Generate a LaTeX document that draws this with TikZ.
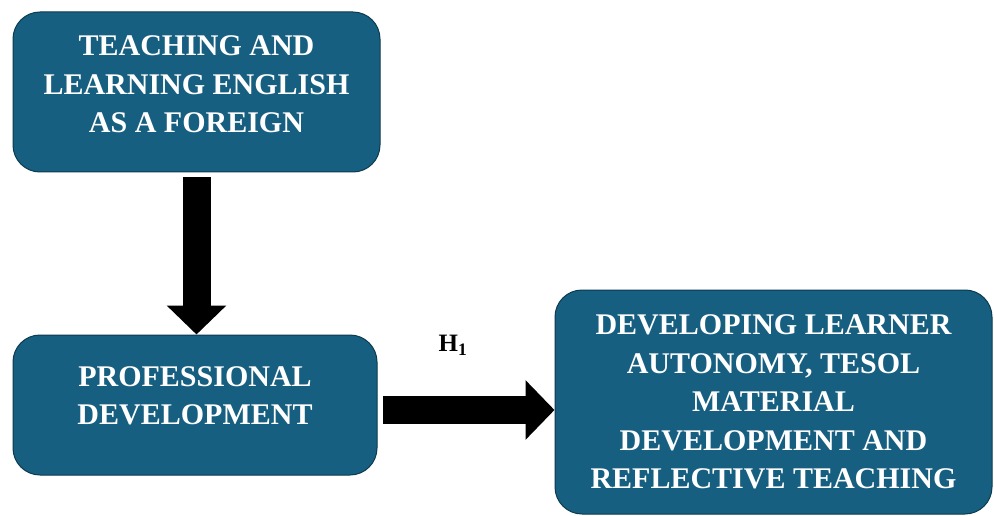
\documentclass[tikz,border=0pt]{standalone}
\usepackage{fontspec}
\setmainfont{Liberation Serif}
\usetikzlibrary{arrows.meta}
\definecolor{boxblue}{HTML}{175F80}
\definecolor{boxedge}{HTML}{0C3A4E}

\begin{document}
\begin{tikzpicture}[x=1pt,y=-1pt,
   box/.style={draw=boxedge,line width=1pt,fill=boxblue,rounded corners=27pt,inner sep=0pt},
   boxtext/.style={text=white,font=\fontsize{30}{38.5}\selectfont\bfseries,align=center},
   bigarrow/.style={line width=28pt,-{Triangle[width=58pt,length=29pt]}}]
   \useasboundingbox (0,0) rectangle (994,516);
   % boxes
   \node[box,minimum width=367pt,minimum height=160pt] (teach) at (196.5,92) {};
   \node[box,minimum width=364pt,minimum height=140pt] (prof) at (195,405) {};
   \node[box,minimum width=437pt,minimum height=224pt] (outcome) at (773.5,402) {};
   \node[boxtext] (teachtxt) at ([yshift=7.5pt]teach.center) {TEACHING AND\\LEARNING ENGLISH\\AS A FOREIGN};
   \node[boxtext] (proftxt) at ([yshift=9pt]prof.center) {PROFESSIONAL\\DEVELOPMENT};
   \node[boxtext] (outcometxt) at (outcome.center) {DEVELOPING LEARNER\\AUTONOMY, TESOL\\MATERIAL\\DEVELOPMENT AND\\REFLECTIVE TEACHING};
   % arrows
   \draw[bigarrow] ([yshift=-5pt]teach.south) -- (teach.south |- prof.north);
   \draw[bigarrow] ([xshift=5pt,yshift=-5pt]prof.east) -- ([yshift=-5pt]prof.east -| outcome.west);
   \node[font=\fontsize{25}{30}\selectfont\bfseries] (hyp) at (453,345) {H\textsubscript{1}};
\end{tikzpicture}
\end{document}
